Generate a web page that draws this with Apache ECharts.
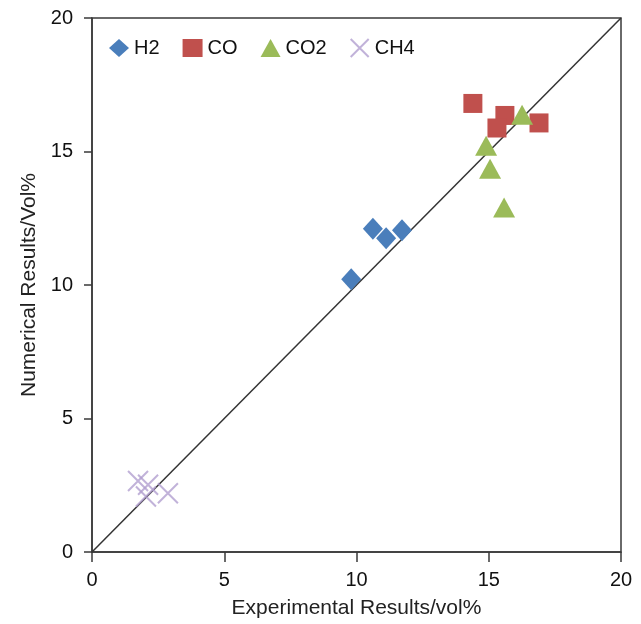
<!DOCTYPE html>
<html><head><meta charset="utf-8">
<script src="https://cdn.jsdelivr.net/npm/echarts@6/dist/echarts.min.js"></script>
<style>html,body{margin:0;padding:0;background:#fff}#c{width:641px;height:624px}</style>
</head><body><div id="c"></div>
<script>
const xTicks = [0, 5, 10, 15, 20];
const h2X = [9.8, 10.62, 11.12, 11.72];
const h2Y = [10.22, 12.11, 11.75, 12.05];
const coX = [14.4, 15.61, 15.31, 16.9];
const coY = [16.8, 16.35, 15.88, 16.07];
const co2X = [16.26, 14.9, 15.05, 15.58];
const co2Y = [16.38, 15.22, 14.35, 12.9];
const ch4X = [1.74, 2.12, 2.04, 2.87];
const ch4Y = [2.66, 2.52, 2.08, 2.2];
const parityLine = [[0, 0], [20, 20]];

const zip = (a, b) => a.map((v, i) => [v, b[i]]);
const font = 'Liberation Sans, Arial, sans-serif';
const chart = echarts.init(document.getElementById('c'));
const axisCommon = {
  type: 'value', min: 0, max: 20, interval: 5,
  axisLine: { show: true, lineStyle: { color: '#3a3a3a', width: 1.5 } },
  axisLabel: { color: '#111', fontSize: 20, fontFamily: font },
  splitLine: { show: false },
  nameLocation: 'middle',
  nameTextStyle: { color: '#222', fontSize: 21, fontFamily: font }
};
chart.setOption({
  animation: false,
  grid: { left: 92, right: 20, top: 18, bottom: 72, show: true, borderColor: '#3a3a3a', borderWidth: 1.5 },
  legend: {
    left: 104, top: 33, itemGap: 23, itemWidth: 20, itemHeight: 18,
    textStyle: { color: '#111', fontSize: 20, fontFamily: font },
    data: ['H2', 'CO', 'CO2', 'CH4']
  },
  xAxis: Object.assign({}, axisCommon, {
    name: 'Experimental Results/vol%', nameGap: 46,
    axisTick: { show: true, inside: false, length: 10, lineStyle: { color: '#3a3a3a', width: 1.5 } },
    axisLabel: Object.assign({}, axisCommon.axisLabel, { margin: 18 })
  }),
  yAxis: Object.assign({}, axisCommon, {
    name: 'Numerical Results/Vol%', nameGap: 52,
    axisTick: { show: true, inside: false, length: 8, lineStyle: { color: '#3a3a3a', width: 1.5 } },
    axisLabel: Object.assign({}, axisCommon.axisLabel, { margin: 19 })
  }),
  series: [
    { type: 'line', data: parityLine, showSymbol: false, symbol: 'none', silent: true,
      lineStyle: { color: '#333', width: 1.5 }, z: 1 },
    { name: 'H2', type: 'scatter', data: zip(h2X, h2Y), symbol: 'diamond', symbolSize: [20, 22],
      itemStyle: { color: '#4a7ebb', opacity: 1 }, z: 3 },
    { name: 'CO', type: 'scatter', data: zip(coX, coY), symbol: 'rect', symbolSize: 19,
      itemStyle: { color: '#c0504d', opacity: 1 }, z: 3 },
    { name: 'CO2', type: 'scatter', data: zip(co2X, co2Y), symbol: 'triangle', symbolSize: [22, 20],
      itemStyle: { color: '#9bbb59', opacity: 1 }, z: 3 },
    { name: 'CH4', type: 'scatter', data: zip(ch4X, ch4Y), symbol: 'path://M0,0L10,10M10,0L0,10', symbolSize: 20,
      itemStyle: { color: 'rgba(0,0,0,0)', borderColor: '#b29fcf', borderWidth: 2 }, z: 3 }
  ]
});
</script></body></html>
